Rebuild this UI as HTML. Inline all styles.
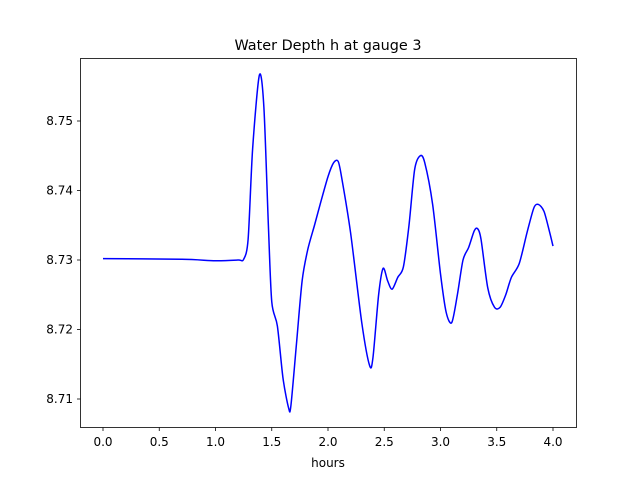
<!DOCTYPE html>
<html><head><meta charset="utf-8"><style>
body{margin:0;background:#fff}
svg text{font-family:"DejaVu Sans","Liberation Sans",sans-serif;font-size:12px;fill:#000}
</style></head><body>
<svg id="chart" width="640" height="480">
<rect width="640" height="480" fill="#fff"/>
<text x="328" y="50" text-anchor="middle" style="font-size:14.4px">Water Depth h at gauge 3</text>
<g id="axes"></g>
<path id="line" fill="none" stroke="#0000ff" stroke-width="1.5"/>
<rect x="80.5" y="58.5" width="496" height="369" fill="none" stroke="#000" stroke-width="0.8"/>
<text x="328" y="467" text-anchor="middle">hours</text>
</svg>
<script>
const times=[0,0.7,1.0,1.2,1.25,1.29,1.33,1.39,1.43,1.47,1.50,1.55,1.60,1.65,1.67,1.72,1.77,1.82,1.88,1.93,2.0,2.05,2.09,2.12,2.2,2.3,2.37,2.40,2.45,2.49,2.53,2.57,2.62,2.67,2.72,2.77,2.82,2.86,2.93,3.0,3.05,3.10,3.15,3.20,3.25,3.30,3.33,3.36,3.42,3.48,3.53,3.58,3.63,3.70,3.77,3.83,3.87,3.92,3.97,4.0];
const depths=[8.7302,8.7301,8.7299,8.7300,8.7301,8.733,8.746,8.7566,8.752,8.735,8.724,8.7205,8.713,8.7087,8.709,8.718,8.727,8.7315,8.735,8.738,8.742,8.744,8.7442,8.742,8.734,8.721,8.7148,8.716,8.725,8.7288,8.727,8.7258,8.7275,8.729,8.735,8.743,8.745,8.744,8.738,8.728,8.7225,8.721,8.725,8.73,8.7318,8.7342,8.7345,8.733,8.726,8.7232,8.7232,8.725,8.7275,8.7295,8.734,8.7375,8.738,8.737,8.734,8.732];
const xTicks=["0.0","0.5","1.0","1.5","2.0","2.5","3.0","3.5","4.0"];
const yTicks=["8.71","8.72","8.73","8.74","8.75"];
const X=t=>103+t*112.5, Y=v=>260-(v-8.73)*6950;
const ns="http://www.w3.org/2000/svg", ax=document.getElementById('axes');
function mk(tag,attrs,txt){const e=document.createElementNS(ns,tag);for(const k in attrs)e.setAttribute(k,attrs[k]);if(txt)e.textContent=txt;ax.appendChild(e);return e;}
xTicks.forEach(s=>{const x=X(parseFloat(s));
 const l=mk('line',{x1:x,x2:x,y1:427.5,y2:431,stroke:'#000','stroke-width':0.8});
 
 
 const t=mk('text',{x:x,y:446,'text-anchor':'middle'},s);
 
 });
yTicks.forEach(s=>{const y=Y(parseFloat(s));
 const l=mk('line',{x1:77,x2:80.5,y1:y,y2:y,stroke:'#000','stroke-width':0.8});
 
 
 const t=mk('text',{x:73,y:y+4,'text-anchor':'end'},s);
 
 });
const P=times.map((t,i)=>[X(t),Y(depths[i])]);
let d='M'+P[0][0]+','+P[0][1];
const k=7;
for(let i=0;i<P.length-1;i++){const p0=P[Math.max(0,i-1)],p1=P[i],p2=P[i+1],p3=P[Math.min(P.length-1,i+2)];
 d+=` C${p1[0]+(p2[0]-p0[0])/k},${p1[1]+(p2[1]-p0[1])/k} ${p2[0]-(p3[0]-p1[0])/k},${p2[1]-(p3[1]-p1[1])/k} ${p2[0]},${p2[1]}`;}
document.getElementById('line').setAttribute('d',d);
</script>
</body></html>
